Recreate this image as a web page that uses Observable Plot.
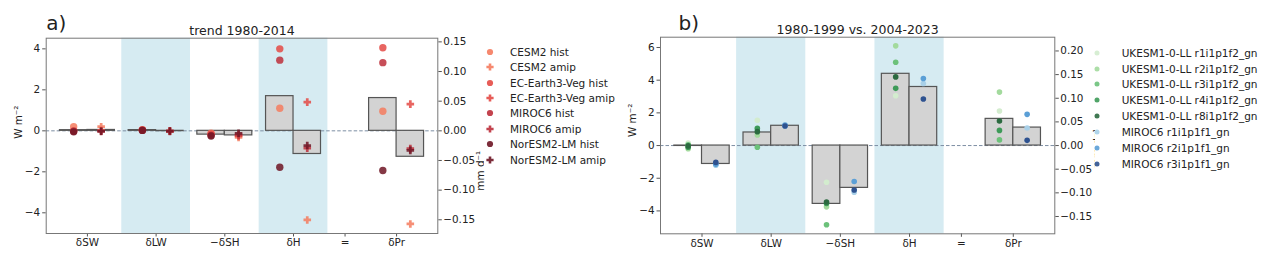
<!DOCTYPE html>
<html><head><meta charset="utf-8">
<script src="https://cdn.jsdelivr.net/npm/d3@7"></script>
<script src="https://cdn.jsdelivr.net/npm/@observablehq/plot@0.6"></script>
<style>
body{margin:0;background:#fff}
#wrap{position:relative;width:1271px;height:259px;overflow:hidden;font-family:"DejaVu Sans",sans-serif;color:#222}
.pl{position:absolute;top:0}
.leg{position:absolute;background:#fff}
.row{position:absolute;font-size:10.5px;white-space:nowrap;line-height:14px}
.row svg{position:absolute;overflow:visible}
</style></head>
<body><div id="wrap"></div>
<script>
// ---------- shared categories ----------
const cats = ["δSW", "δLW", "−δSH", "δH", "δPr"];
const catPos = [0, 1, 2, 3, 4.5];
const shadedCats = ["δLW", "δH"];
const tickPos = [0, 1, 2, 3, 3.75, 4.5];
const tickLabels = ["δSW", "δLW", "−δSH", "δH", "=", "δPr"];
const Lv = 28.94; // W m-2 per mm d-1 (right axis)

// ---------- panel a: trend 1980-2014 (δPr in mm d-1) ----------
const modelsA = ["CESM2", "EC-Earth3-Veg", "MIROC6", "NorESM2-LM"];
const colorsA = ["#f57b5e", "#e44a45", "#bd2f3b", "#6e1525"];
const cesm2Hist  = [0.20, 0.05, -0.12,  1.10,  0.033];
const ecHist     = [0.00, 0.04, -0.15,  4.00,  0.140];
const mirocHist  = [-0.02, 0.03, -0.22, 3.45,  0.115];
const noresmHist = [-0.05, 0.02, -0.25, -1.78, -0.067];
const cesm2Amip  = [0.20, -0.02, -0.32, -4.35, -0.157];
const ecAmip     = [0.02, 0.00, -0.25,  1.40,  0.045];
const mirocAmip  = [-0.03, -0.03, -0.20, -0.85, -0.030];
const noresmAmip = [-0.02, -0.01, -0.12, -0.72, -0.033];
const yTicksA = [-4, -2, 0, 2, 4];
const mmTicksA = [-0.15, -0.10, -0.05, 0, 0.05, 0.10, 0.15];

// ---------- panel b: 1980-1999 vs. 2004-2023 ----------
const membersUK = ["UKESM1-0-LL r1i1p1f2_gn", "UKESM1-0-LL r2i1p1f2_gn", "UKESM1-0-LL r3i1p1f2_gn", "UKESM1-0-LL r4i1p1f2_gn", "UKESM1-0-LL r8i1p1f2_gn"];
const colorsUK = ["#d3ecce", "#a3da9d", "#6cc17a", "#3d9a58", "#2b6a40"];
const ukR1 = [0.15, 1.55, -2.25, 3.05, 0.073];
const ukR2 = [-0.20, 0.65, -3.75, 6.10, 0.113];
const ukR3 = [0.05, -0.10, -4.85, 5.10, 0.012];
const ukR4 = [-0.10, 1.05, -3.55, 3.50, 0.032];
const ukR8 = [-0.02, 0.85, -3.45, 4.20, 0.052];
const membersMI = ["MIROC6 r1i1p1f1_gn", "MIROC6 r2i1p1f1_gn", "MIROC6 r3i1p1f1_gn"];
const colorsMI = ["#a9d0e8", "#5b9fd6", "#2e5290"];
const miR1 = [-1.20, 1.18, -2.85, 3.80, 0.037];
const miR2 = [-1.15, 1.25, -2.20, 4.10, 0.066];
const miR3 = [-1.03, 1.20, -2.72, 2.85, 0.011];
const yTicksB = [-4, -2, 0, 2, 4, 6];
const mmTicksB = [-0.15, -0.10, -0.05, 0, 0.05, 0.10, 0.15, 0.20];

// ---------- helpers ----------
const toW = (ci, v) => cats[ci] === "δPr" ? v * Lv : v;
const plusSymbol = {
  draw(ctx, size) {
    const r = Math.sqrt(size / Math.PI) * 1.05, t = r * 0.36;
    ctx.moveTo(-t, -r); ctx.lineTo(t, -r); ctx.lineTo(t, -t); ctx.lineTo(r, -t);
    ctx.lineTo(r, t); ctx.lineTo(t, t); ctx.lineTo(t, r); ctx.lineTo(-t, r);
    ctx.lineTo(-t, t); ctx.lineTo(-r, t); ctx.lineTo(-r, -t); ctx.lineTo(-t, -t);
    ctx.closePath();
  }
};
function groupPoints(seriesList, names, colors, off, symbol) {
  const pts = [];
  seriesList.forEach((vals, k) => vals.forEach((v, ci) => pts.push({
    x: catPos[ci] + off, y: toW(ci, v), name: names[k], color: colors[k], symbol
  })));
  return pts;
}
function groupBars(seriesList, off) {
  return cats.map((c, ci) => ({
    x1: catPos[ci] + off - 0.2, x2: catPos[ci] + off + 0.2,
    y: toW(ci, d3.mean(seriesList, s => s[ci]))
  }));
}
const tickLabelMap = new Map(tickPos.map((p, i) => [p, tickLabels[i]]));
const bands = shadedCats.map(c => catPos[cats.indexOf(c)]);

function makePanel(o) {
  return Plot.plot({
    width: o.width, height: 259,
    marginLeft: o.ml, marginRight: o.mr, marginTop: o.mt, marginBottom: o.mb,
    x: {domain: [-0.6, 5.1]},
    y: {domain: o.ydom},
    style: {fontFamily: "DejaVu Sans", fontSize: "10.4px", color: "#222", background: "transparent", overflow: "visible"},
    marks: [
      Plot.rect(bands, {x1: d => d - 0.5, x2: d => d + 0.5, fill: "#add8e6", fillOpacity: 0.5}),
      Plot.ruleY([0], {stroke: "#7d8ea3", strokeWidth: 1, strokeDasharray: "3.5,2"}),
      Plot.rect(o.bars, {x1: "x1", x2: "x2", y1: 0, y2: "y", fill: "#d3d3d3", stroke: "#555", strokeWidth: 1.2}),
      ...o.pointMarks,
      Plot.axisX({ticks: tickPos, tickFormat: d => tickLabelMap.get(d), tickSize: 3.5, tickPadding: 2, label: null, stroke: "#555"}),
      Plot.axisY({anchor: "left", ticks: o.yticks, tickSize: 3.5, tickPadding: 2.5, label: null, stroke: "#555"}),
      Plot.axisY({anchor: "right", ticks: o.mmticks.map(v => v * Lv), tickFormat: d => d3.format(".2f")(d / Lv), tickSize: 3.5, tickPadding: 2, label: null, stroke: "#555"}),
      Plot.frame({stroke: "#777", strokeWidth: 1}),
      Plot.text(["W m⁻²"], {frameAnchor: "left", dx: -28, dy: o.ldy, rotate: -90, fontSize: 10.4}),
      Plot.text(["mm d⁻¹"], {frameAnchor: "right", dx: 42.7, dy: o.rdy, rotate: -90, fontSize: 10.4}),
      Plot.text([o.title], {frameAnchor: "top", dy: -7.7, fontSize: 12.5, lineAnchor: "middle"}),
      Plot.text([o.tag], {frameAnchor: "top-left", textAnchor: "start", lineAnchor: "middle", dx: o.tagdx, dy: o.tagdy, fontSize: 20})
    ]
  });
}

const wrap = document.getElementById("wrap");

// ---------- panel a ----------
const histA = [cesm2Hist, ecHist, mirocHist, noresmHist];
const amipA = [cesm2Amip, ecAmip, mirocAmip, noresmAmip];
const ptsAh = groupPoints(histA, modelsA, colorsA, -0.2, "circle");
const ptsAa = groupPoints(amipA, modelsA, colorsA, 0.2, "plus");
const panelA = makePanel({
  width: 600, ml: 45.7, mr: 162.7, mt: 37.7, mb: 26, ydom: [-5.01, 4.52],
  bars: [...groupBars(histA, -0.2), ...groupBars(amipA, 0.2)],
  pointMarks: [
    Plot.dot(ptsAh, {x: "x", y: "y", r: 3.7, fill: "color", fillOpacity: 0.85, stroke: "none"}),
    Plot.dot(ptsAa, {x: "x", y: "y", r: 3.6, symbol: plusSymbol, fill: "color", fillOpacity: 0.85, stroke: "none"})
  ],
  yticks: yTicksA, mmticks: mmTicksA, title: "trend 1980-2014", tag: "a)", tagdx: 0, tagdy: -14.7, ldy: 3, rdy: 15
});
panelA.classList.add("pl"); panelA.style.left = "0px";
wrap.appendChild(panelA);

// ---------- panel b ----------
const seriesUK = [ukR1, ukR2, ukR3, ukR4, ukR8];
const seriesMI = [miR1, miR2, miR3];
const ptsB = [...groupPoints(seriesUK, membersUK, colorsUK, -0.2, "circle"), ...groupPoints(seriesMI, membersMI, colorsMI, 0.2, "circle")];
const panelB = makePanel({
  width: 671, ml: 60, mr: 216.7, mt: 36.7, mb: 25.7, ydom: [-5.4, 6.63],
  bars: [...groupBars(seriesUK, -0.2), ...groupBars(seriesMI, 0.2)],
  pointMarks: [Plot.dot(ptsB, {x: "x", y: "y", r: 2.8, fill: "color", stroke: "none"})],
  yticks: yTicksB, mmticks: mmTicksB, title: "1980-1999 vs. 2004-2023", tag: "b)", tagdx: 18, tagdy: -13.7, ldy: 1.5, rdy: -7
});
panelB.classList.add("pl"); panelB.style.left = "600px";
wrap.appendChild(panelB);

// ---------- legends ----------
function legend(left, top, w, h, entries, step, mx, tx, r) {
  const box = document.createElement("div");
  box.className = "leg";
  Object.assign(box.style, {left: left + "px", top: top + "px", width: w + "px", height: h + "px"});
  entries.forEach((e, i) => {
    const cy = 9 + i * step;
    const row = document.createElement("div");
    row.className = "row";
    Object.assign(row.style, {left: "0px", top: (cy - 7) + "px", width: w + "px", height: "14px"});
    const shape = e.symbol === "plus"
      ? `<path d="M-1.3,-3.6H1.3V-1.3H3.6V1.3H1.3V3.6H-1.3V1.3H-3.6V-1.3H-1.3Z" fill="${e.color}" fill-opacity="0.9"/>`
      : `<circle r="${r}" fill="${e.color}" fill-opacity="0.9"/>`;
    row.innerHTML = `<svg width="1" height="1" style="left:${mx}px;top:7px">${shape}</svg><span style="position:absolute;left:${tx}px;top:0px">${e.label}</span>`;
    box.appendChild(row);
  });
  wrap.appendChild(box);
}
const legA = [];
modelsA.forEach((m, k) => {
  legA.push({label: m + " hist", color: colorsA[k], symbol: "circle"});
  legA.push({label: m + " amip", color: colorsA[k], symbol: "plus"});
});
legend(484, 42.7, 134, 128, legA, 15.45, 6, 26, 3.1);
const legB = [...membersUK.map((m, k) => ({label: m, color: colorsUK[k]})), ...membersMI.map((m, k) => ({label: m, color: colorsMI[k]}))];
legend(1094.5, 43.7, 176, 132, legB, 15.9, 2.8, 27.2, 2.5);
</script></body></html>
